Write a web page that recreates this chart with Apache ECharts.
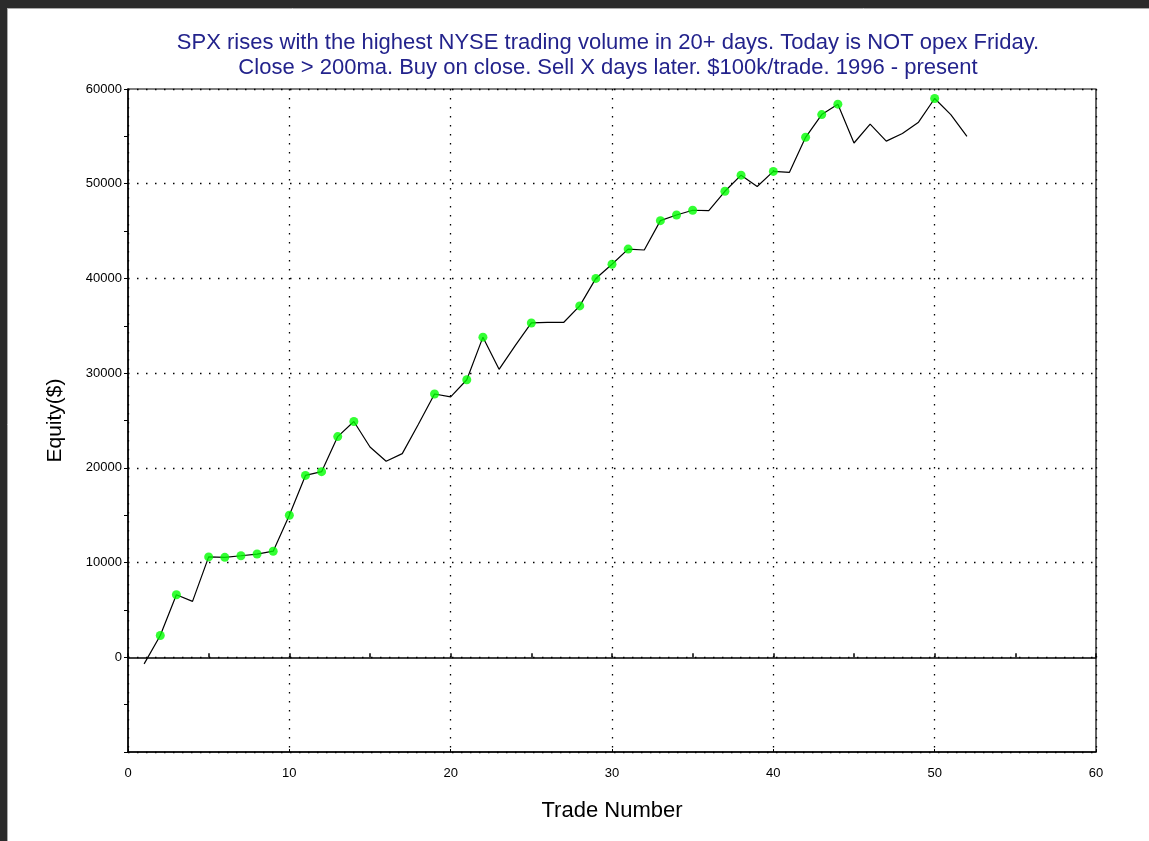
<!DOCTYPE html>
<html>
<head>
<meta charset="utf-8">
<script src="https://cdn.jsdelivr.net/npm/echarts@6/dist/echarts.min.js"></script>
<style>
html,body{margin:0;padding:0;background:#fff;}
#chart{width:1149px;height:841px;}
</style>
</head>
<body>
<div id="chart"></div>
<script>
const titleLines = [
  "SPX rises with the highest NYSE trading volume in 20+ days. Today is NOT opex Friday.",
  "Close > 200ma. Buy on close. Sell X days later. $100k/trade. 1996 - present"
];
const tradeNumbers = [1,2,3,4,5,6,7,8,9,10,11,12,13,14,15,16,17,18,19,20,21,22,23,24,25,26,27,28,29,30,31,32,33,34,35,36,37,38,39,40,41,42,43,44,45,46,47,48,49,50,51,52];
const equity = [-700,2300,6600,5900,10600,10550,10720,10900,11200,15000,19200,19600,23300,24900,22200,20700,21500,24600,27800,27500,29300,33800,30400,32900,35300,35350,35350,37100,40000,41500,43100,43000,46100,46700,47200,47150,49200,50900,49700,51300,51200,54900,57300,58400,54300,56300,54500,55300,56500,59000,57300,55000];
const highTrades = [2,3,5,6,7,8,9,10,11,12,13,14,19,21,22,25,28,29,30,31,33,34,35,37,38,40,42,43,44,50];
const xTicks = [0,10,20,30,40,50,60];
const yTicks = [-10000,0,10000,20000,30000,40000,50000,60000];

const lineData = tradeNumbers.map((n,i)=>[n,equity[i]]);
const highData = highTrades.map(n=>[n,equity[tradeNumbers.indexOf(n)]]);

const chart = echarts.init(document.getElementById('chart'), null, {renderer:'canvas'});
const font = 'Liberation Sans, Arial, sans-serif';
const dotted = {color:'#000', type:[1.5,7.5], width:1.3};
chart.setOption({
  animation:false,
  backgroundColor:'#ffffff',
  title:{
    text: titleLines.join('\n'),
    left: 603, top: 25, textAlign:'center',
    textStyle:{color:'#23238c', fontFamily:font, fontSize:22, fontWeight:'normal', lineHeight:25}
  },
  graphic:[
    {type:'rect', shape:{x:0,y:0,width:1149,height:8}, style:{fill:'#2b2b2b'}, z:100},
    {type:'rect', shape:{x:0,y:0,width:7,height:841}, style:{fill:'#2b2b2b'}, z:100},
    {type:'line', shape:{x1:7,y1:8.5,x2:1149,y2:8.5}, style:{stroke:'#aaaaaa',lineWidth:1}, z:100},
    {type:'line', shape:{x1:7.5,y1:8,x2:7.5,y2:841}, style:{stroke:'#aaaaaa',lineWidth:1}, z:100}
  ],
  grid:{left:128, top:89, right:53, bottom:89, show:true, borderColor:'#000', borderWidth:1.2, backgroundColor:'transparent'},
  xAxis:[
    {
      type:'value', min:xTicks[0], max:xTicks[xTicks.length-1], interval:10,
      position:'bottom',
      axisLine:{onZero:false, lineStyle:{color:'#000', width:1.5}},
      axisTick:{inside:true, length:3, lineStyle:{color:'#000'}},
      axisLabel:{color:'#000', fontFamily:font, fontSize:13, margin:15},
      splitLine:{show:true, lineStyle:dotted},
      name:'Trade Number', nameLocation:'middle', nameGap:48,
      nameTextStyle:{color:'#000', fontFamily:font, fontSize:22}
    },
    {
      type:'value', min:xTicks[0], max:xTicks[xTicks.length-1], interval:5,
      position:'bottom',
      axisLine:{onZero:true, lineStyle:{color:'#000', width:1.5}},
      axisTick:{inside:true, length:4, lineStyle:{color:'#000', width:1.5}},
      axisLabel:{show:false},
      splitLine:{show:false}
    }
  ],
  yAxis:{
    type:'value', min:yTicks[0], max:yTicks[yTicks.length-1], interval:10000,
    axisLine:{lineStyle:{color:'#000', width:1.5}},
    axisTick:{length:4, lineStyle:{color:'#000'}},
    minorTick:{show:true, splitNumber:2, length:4, lineStyle:{color:'#000'}},
    axisLabel:{color:'#000', fontFamily:font, fontSize:13, margin:6,
      formatter:v => (v < 0 ? '' : String(v))},
    splitLine:{show:true, lineStyle:dotted},
    name:'Equity($)', nameLocation:'middle', nameGap:62,
    nameTextStyle:{color:'#000', fontFamily:font, fontSize:21}
  },
  series:[
    {
      type:'line', data:lineData, xAxisIndex:0, showSymbol:false, symbol:'none',
      lineStyle:{color:'#000', width:1.2}, z:3
    },
    {
      type:'scatter', data:highData, xAxisIndex:0, symbol:'circle', symbolSize:9,
      itemStyle:{color:'#00ff00'}, z:4
    }
  ]
});
</script>
</body>
</html>
